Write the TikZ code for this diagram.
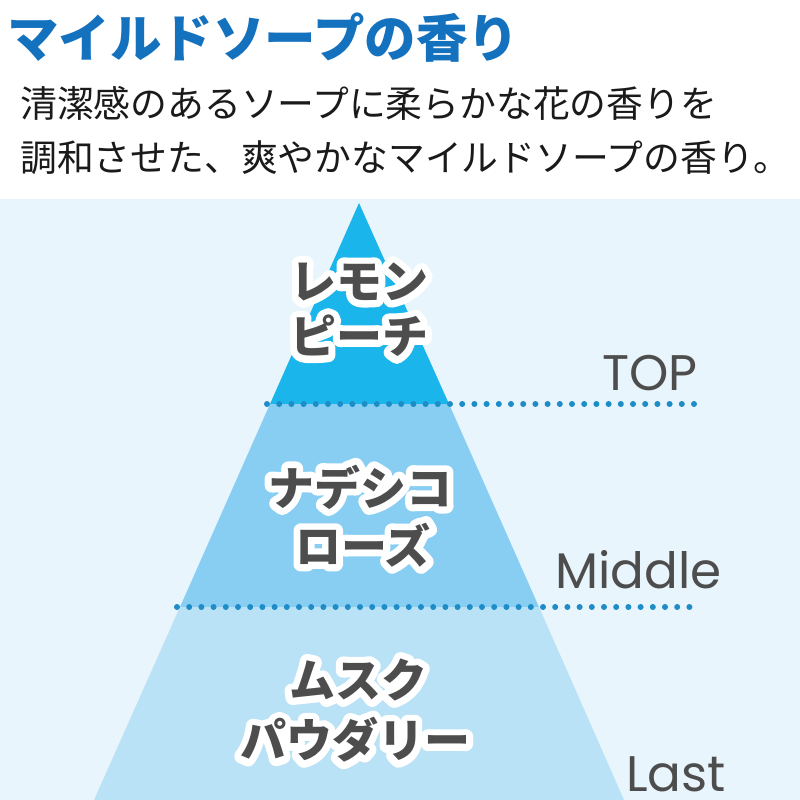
\documentclass[tikz,border=0pt]{standalone}
\usepackage{fontspec}
\setmainfont{Noto Sans CJK JP}
\newfontfamily\jpfont{Noto Sans CJK JP}
\newfontfamily\outlinefont[FakeBold=32]{Noto Sans CJK JP Bold}
\newfontfamily\latfont{Poppins}
\definecolor{bgblue}{HTML}{E8F5FC}
\definecolor{topblue}{HTML}{1AB5EA}
\definecolor{midblue}{HTML}{88CEF3}
\definecolor{lastblue}{HTML}{B9E2F7}
\definecolor{titleblue}{HTML}{1471BE}
\definecolor{dotblue}{HTML}{1E8CC6}
\definecolor{labelgray}{HTML}{4D4D4D}
\definecolor{bodyblack}{HTML}{1A1A1A}
\tikzset{
  titletext/.style={anchor=west,inner sep=0pt,text=titleblue,font=\jpfont\bfseries\fontsize{51.5}{51.5}\selectfont},
  bodytext/.style={anchor=west,inner sep=0pt,text=bodyblack,font=\jpfont\fontsize{36.8}{36.8}\selectfont},
  notetext/.style={anchor=center,inner sep=0pt,text=labelgray,font=\fontsize{46}{46}\selectfont},
  leveltext/.style={anchor=base west,inner sep=0pt,text=labelgray,font=\latfont\fontsize{50}{50}\selectfont},
  dotline/.style={draw=dotblue,line width=6pt,line cap=round,dash pattern=on 0pt off 12.2pt},
}
\newcommand{\wlabel}[1]{\special{pdf:code 1 j 1 J}\rlap{\outlinefont\color{white}#1}{\jpfont\bfseries #1}}
\begin{document}
\begin{tikzpicture}[x=1pt,y=-1pt]
\useasboundingbox (0,0) rectangle (800,800);
\fill[white] (0,0) rectangle (800,800);
\fill[bgblue] (0,199) rectangle (800,800);
% pyramid layers
\coordinate (apex) at (359,203);
\coordinate (tl) at (270,404);
\coordinate (tr) at (449,404);
\coordinate (ml) at (180,607);
\coordinate (mr) at (539,607);
\coordinate (bl) at (94,800);
\coordinate (br) at (624,800);
\fill[topblue] (apex) -- (tr) -- (tl) -- cycle;
\fill[midblue] (tl) -- (tr) -- (mr) -- (ml) -- cycle;
\fill[lastblue] (ml) -- (mr) -- (br) -- (bl) -- cycle;
% dotted separators
\coordinate (d1a) at (267,404);
\coordinate (d1b) at (702,404);
\coordinate (d2a) at (177,607);
\coordinate (d2b) at (695,607);
\draw[dotline] (d1a) -- (d1b);
\draw[dotline] (d2a) -- (d2b);
% title and body
\node[titletext] (title) at (7,38) {マイルドソープの香り};
\node[bodytext] (line1) at (20,103) {清潔感のあるソープに柔らかな花の香りを};
\node[bodytext] (line2) at (20,158) {調和させた、爽やかなマイルドソープの香り。};
% notes
\node[notetext] (n1) at (359,282) {\wlabel{レモン}};
\node[notetext] (n2) at (359,336) {\wlabel{ピーチ}};
\node[notetext] (n3) at (360,487) {\wlabel{ナデシコ}};
\node[notetext] (n4) at (363,545) {\wlabel{ローズ}};
\node[notetext] (n5) at (358,680) {\wlabel{ムスク}};
\node[notetext] (n6) at (355,740) {\wlabel{パウダリー}};
% levels
\node[leveltext] (top) at (602,390) {TOP};
\node[leveltext] (middle) at (555,588) {Middle};
\node[leveltext] (last) at (626,791) {Last};
\end{tikzpicture}
\end{document}
